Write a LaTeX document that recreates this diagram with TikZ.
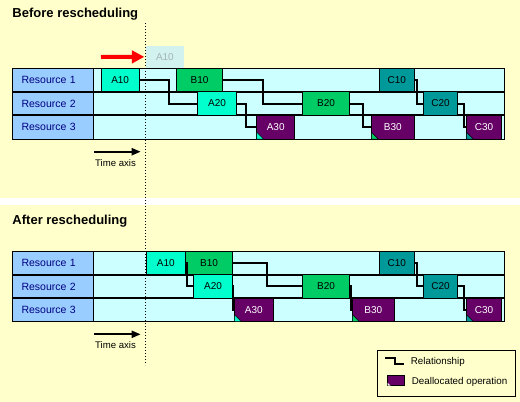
\documentclass[tikz,border=0pt]{standalone}
\usepackage{fontspec}
\setmainfont{Liberation Sans}
\usetikzlibrary{arrows.meta}
\definecolor{bgyellow}{HTML}{FFFFCC}
\definecolor{resblue}{HTML}{99CCFF}
\definecolor{lanecyan}{HTML}{CCFFFF}
\definecolor{navytext}{HTML}{000080}
\definecolor{acol}{HTML}{00FFCC}
\definecolor{bcol}{HTML}{00CC66}
\definecolor{ccol}{HTML}{009999}
\definecolor{dpurple}{HTML}{660066}
\definecolor{ghostcyan}{RGB}{210,242,240}
\definecolor{ghosttext}{RGB}{165,180,180}
\tikzstyle{title} = [anchor=base west, inner sep=0pt, font=\bfseries\fontsize{13}{15}\selectfont]
\tikzstyle{rescell} = [draw=black, fill=resblue, text=navytext, anchor=north west, minimum width=81pt, minimum height=\rowh pt, inner xsep=9.5pt, inner ysep=0pt, text width=62pt, align=left, outer sep=0pt, line width=.8pt, font=\fontsize{10.5}{12}\selectfont]
\tikzstyle{lane} = [draw=black, fill=lanecyan, anchor=north west, minimum width=411pt, minimum height=\rowh pt, inner sep=0pt, outer sep=0pt, line width=.8pt]
\tikzstyle{rowsep} = [line width=2pt]
\tikzstyle{op} = [draw=black, anchor=north west, minimum height=\rowh pt, inner sep=0pt, outer sep=0pt, line width=.6pt, font=\fontsize{10}{12}\selectfont]
\tikzstyle{opA} = [op, fill=acol]
\tikzstyle{opB} = [op, fill=bcol]
\tikzstyle{opC} = [op, fill=ccol]
\tikzstyle{opD} = [op, fill=dpurple, text=white]
\tikzstyle{rel} = [line width=2pt]
\tikzstyle{timearrow} = [line width=2pt, -{Triangle[length=9pt,width=7pt]}]
\tikzstyle{axislabel} = [anchor=base, inner sep=0pt, font=\fontsize{9.6}{11}\selectfont]
\tikzstyle{legendtext} = [anchor=base west, inner sep=0pt, font=\fontsize{9.8}{11}\selectfont]
\newcommand{\rowh}{23.7}
\newcommand{\lanes}[2]{%
  \foreach \r in {1,2,3} {
    \node [rescell] (#1r\r) at (12,{#2+(\r-1)*\rowh}) {Resource \r};
    \node [lane] (#1l\r) at (93,{#2+(\r-1)*\rowh}) {};
  }
  \draw [rowsep] (#1r1.south west) -- (#1l1.south east);
  \draw [rowsep] (#1r2.south west) -- (#1l2.south east);
}
\newcommand{\opbox}[6]{\node [#1, minimum width=#5pt] (#2) at (#3,#4) {#6};}
\newcommand{\tri}[2]{\filldraw [fill=#2, draw=black, line width=.5pt] (#1.south west) -- ++(7,0) -- ++(-7,-7) -- cycle;}

\begin{document}
\begin{tikzpicture}[x=1pt, y=-1pt]
\useasboundingbox (0,0) rectangle (520,402);
\fill [bgyellow] (0,0) rectangle (520,402);
\fill [white] (0,198) rectangle (520,205);

% before rescheduling
\node [title] (before) at (12.3,17.5) {Before rescheduling};
\renewcommand{\rowh}{23.7}
\lanes{t}{68}
\opbox{opA}{ta10}{101}{68}{38.3}{A10}
\opbox{opB}{tb10}{176.7}{68}{45.6}{B10}
\opbox{opC}{tc10}{379.3}{68}{35}{C10}
\opbox{opA}{ta20}{197.7}{91.7}{38.6}{A20}
\opbox{opB}{tb20}{302.7}{91.7}{46.6}{B20}
\opbox{opC}{tc20}{423.3}{91.7}{34.4}{C20}
\opbox{opD}{ta30}{256.7}{115.4}{38}{A30}
\opbox{opD}{tb30}{371.3}{115.4}{43}{B30}
\opbox{opD}{tc30}{466.3}{115.4}{35.4}{C30}
\tri{ta30}{acol}
\tri{tb30}{bcol}
\tri{tc30}{ccol}
\draw [rel] (ta10.east) -- ++(29.7,0) |- (ta20.west);
\draw [rel] (ta20.east) -- ++(9.7,0) |- (ta30.west);
\draw [rel] (tb10.east) -- ++(40.4,0) |- (tb20.west);
\draw [rel] (tb20.east) -- ++(13.7,0) |- (tb30.west);
\draw [rel] (tc10.east) -- ++(2.4,0) |- (tc20.west);
\draw [rel] (tc20.east) -- ++(6.3,0) |- (tc30.west);

% moved operation
\node [fill=ghostcyan, text=ghosttext, anchor=north west, minimum width=38pt, minimum height=21.3pt, inner sep=0pt, font=\fontsize{10}{12}\selectfont] (ghost) at (145.7,46) {A10};
\coordinate (redtail) at (101,57);
\draw [draw=red, line width=4pt, -{Triangle[length=12.5pt,width=12.5pt]}, shorten >=1.4pt] (redtail) -- (ghost.west);

\coordinate (tt0) at (94.3,151.7);
\coordinate (tt1) at (140.7,151.7);
\draw [timearrow] (tt0) -- (tt1);
\node [axislabel] (ttlabel) at (115.5,166) {Time axis};

% after rescheduling
\node [title] (after) at (12.3,224) {After rescheduling};
\renewcommand{\rowh}{23.4}
\lanes{b}{251.3}
\opbox{opA}{ba10}{146.7}{251.3}{38.3}{A10}
\opbox{opB}{bb10}{185.7}{251.3}{46.6}{B10}
\opbox{opC}{bc10}{379.3}{251.3}{35}{C10}
\opbox{opA}{ba20}{193.7}{274.7}{38.6}{A20}
\opbox{opB}{bb20}{302.7}{274.7}{46.6}{B20}
\opbox{opC}{bc20}{423.3}{274.7}{34.4}{C20}
\opbox{opD}{ba30}{234.3}{298.1}{39}{A30}
\opbox{opD}{bb30}{352.3}{298.1}{42}{B30}
\opbox{opD}{bc30}{466.3}{298.1}{35.4}{C30}
\tri{ba30}{acol}
\tri{bb30}{bcol}
\tri{bc30}{ccol}
\draw [rel] (ba10.east) -- ++(1.7,0) |- (ba20.west);
\draw [rel] (ba20.east) -- ++(1,0) |- (ba30.west);
\draw [rel] (bb10.east) -- ++(35,0) |- (bb20.west);
\draw [rel] (bb20.east) -- ++(1.4,0) |- (bb30.west);
\draw [rel] (bc10.east) -- ++(2.4,0) |- (bc20.west);
\draw [rel] (bc20.east) -- ++(6.3,0) |- (bc30.west);

\coordinate (bt0) at (94.3,334.3);
\coordinate (bt1) at (140.7,334.3);
\draw [timearrow] (bt0) -- (bt1);
\node [axislabel] (btlabel) at (115.5,348.7) {Time axis};

% current time
\coordinate (nowtop) at (145.3,23);
\coordinate (nowbot) at (145.3,365);
\draw [line width=1pt, dash pattern=on 1pt off 2pt] (nowtop) -- (nowbot);

% legend
\draw [line width=.8pt] (377.3,350.3) rectangle (515.7,396.3);
\draw [rel] (385,358) -- (395,358) -- (395,364) -- (404.3,364);
\node [legendtext] (lrel) at (410.7,364.5) {Relationship};
\filldraw [fill=dpurple, draw=black, line width=.6pt] (387.7,375) rectangle (404.3,385.7);
\fill [white] (387.7,385.7) -- ++(3,0) -- ++(-3,-3) -- cycle;
\node [legendtext] (ldeal) at (411.7,384) {Deallocated operation};
\end{tikzpicture}
\end{document}
